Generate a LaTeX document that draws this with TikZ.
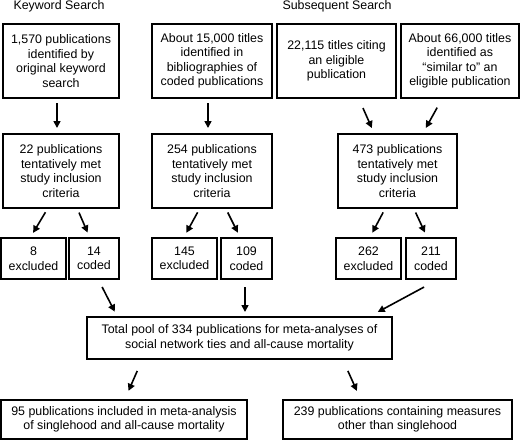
\documentclass[tikz,border=0pt]{standalone}
\usepackage{fontspec}
\setmainfont{Liberation Sans}
\usetikzlibrary{arrows.meta}
\usetikzlibrary{positioning}

\begin{document}
\begin{tikzpicture}[
    x=1pt, y=-1pt,
    line width=0.2mm,
    font=\fontsize{12.4}{14.5}\selectfont,
    box/.style={draw, line width=1.1pt, align=center, inner sep=0pt, outer sep=0pt, minimum height=74pt},
    small/.style={box, minimum height=41pt},
    arrow/.style={line width=1.6pt, -{Triangle[length=7pt, width=7pt]}, shorten <=5pt, shorten >=6pt},
  ]
  \useasboundingbox (0,0) rectangle (520,440);
  \node (kwhead) [anchor=base] at (59,9) {Keyword Search};
  \node (subhead) [anchor=base] at (337,9) {Subsequent Search};

  \node (kwsrc) [box, minimum width=116pt] at (61,61) {1,570 publications\\identified by\\original keyword\\search};
  \node (bibsrc) [box, minimum width=120pt] at (212,61) {About 15,000 titles\\identified in\\bibliographies of\\coded publications};
  \node (citesrc) [box, minimum width=119pt] at (336.5,61) {22,115 titles citing\\an eligible\\publication};
  \node (simsrc) [box, minimum width=118pt] at (460,61) {About 66,000 titles\\identified as\\“similar to” an\\eligible publication};

  \node (kwmet) [box, minimum width=116pt] at (61,171) {22 publications\\tentatively met\\study inclusion\\criteria};
  \node (bibmet) [box, minimum width=120pt] at (212,171) {254 publications\\tentatively met\\study inclusion\\criteria};
  \node (submet) [box, minimum width=119pt] at (397.5,171) {473 publications\\tentatively met\\study inclusion\\criteria};

  \node (kwexcl) [small, minimum width=65pt] at (33.5,258.5) {8\\excluded};
  \node (kwcoded) [small, minimum width=50pt, right=3pt of kwexcl] {14\\coded};
  \node (bibexcl) [small, minimum width=65pt] at (184.5,258.5) {145\\excluded};
  \node (bibcoded) [small, minimum width=51pt, right=4pt of bibexcl] {109\\coded};
  \node (subexcl) [small, minimum width=65pt] at (368.5,258.5) {262\\excluded};
  \node (subcoded) [small, minimum width=50pt, right=5pt of subexcl] {211\\coded};

  \node (pool) [box, minimum width=305pt, minimum height=42pt] at (239.5,338) {Total pool of 334 publications for meta-analyses of\\social network ties and all-cause mortality};

  \node (single) [box, minimum width=246pt, minimum height=39pt] at (124,419.5) {95 publications included in meta-analysis\\of singlehood and all-cause mortality};
  \node (other) [box, minimum width=229pt, minimum height=39pt] at (397.5,419.5) {239 publications containing measures\\other than singlehood};

  \draw[arrow] ([xshift=-4pt]kwsrc.south) -- ([xshift=-4pt]kwmet.north);
  \draw[arrow] ([xshift=-4pt]bibsrc.south) -- ([xshift=-4pt]bibmet.north);
  \draw[arrow, shorten <=11pt, shorten >=6.5pt] ([xshift=22pt]citesrc.south) -- ([xshift=-23pt]submet.north);
  \draw[arrow, shorten <=11pt, shorten >=7pt] ([xshift=-17.5pt]simsrc.south) -- ([xshift=25pt]submet.north);

  \draw[arrow, shorten >=6pt] ([xshift=-13pt]kwmet.south) -- ([xshift=-3.5pt]kwexcl.north);
  \draw[arrow, shorten >=6pt] ([xshift=16pt]kwmet.south) -- ([xshift=-4pt]kwcoded.north);
  \draw[arrow, shorten >=6pt] ([xshift=-12pt]bibmet.south) -- ([xshift=-1pt]bibexcl.north);
  \draw[arrow, shorten >=6pt] ([xshift=13.5pt]bibmet.south) -- ([xshift=-6pt]bibcoded.north);
  \draw[arrow, shorten >=6pt] ([xshift=-12pt]submet.south) -- ([xshift=1pt]subexcl.north);
  \draw[arrow, shorten >=6pt] ([xshift=16pt]submet.south) -- ([xshift=-3.5pt]subcoded.north);

  \draw[arrow, shorten <=9pt] ([xshift=4pt]kwcoded.south) -- ([xshift=-122pt]pool.north);
  \draw[arrow, shorten <=8pt, shorten >=5pt] ([xshift=-1.5pt]bibcoded.south) -- ([xshift=-1.5pt]bibcoded.south |- pool.north);
  \draw[arrow, shorten <=17pt, shorten >=10.5pt] ([xshift=8pt]subcoded.south) -- ([xshift=129pt]pool.north);

  \draw[arrow, shorten <=13pt, shorten >=10pt] ([xshift=-97pt]pool.south) -- ([xshift=0.5pt]single.north);
  \draw[arrow, shorten <=13pt, shorten >=10pt] ([xshift=103pt]pool.south) -- ([xshift=-36.5pt]other.north);
\end{tikzpicture}
\end{document}
